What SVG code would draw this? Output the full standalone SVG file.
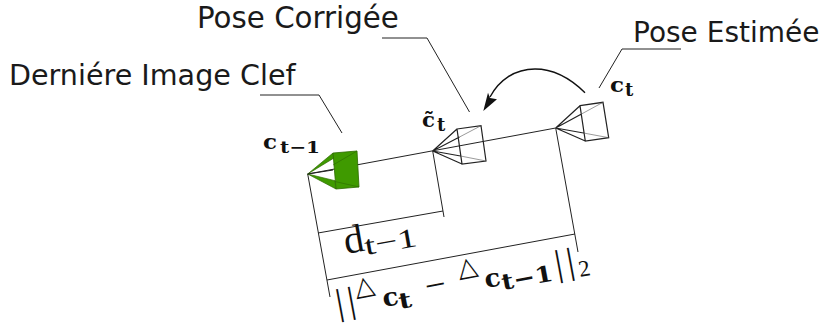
<svg xmlns="http://www.w3.org/2000/svg" width="825" height="326" viewBox="0 0 825 326">
<style>
.lab{font-family:"DejaVu Sans",sans-serif;fill:#1a1a1a}
.m{font-family:"DejaVu Serif",serif;font-weight:bold;fill:#111}
.r{font-family:"Liberation Serif",serif;fill:#111}
.l{fill:none;stroke:#222;stroke-width:1}
.t{fill:none;stroke:#222;stroke-width:1.2}
.f{fill:none;stroke:#555;stroke-width:.6}
</style>
<rect width="825" height="326" fill="#fff"/>
<g id="connectors">
<path class="l" d="M307.7 174L555.7 128"/>
<path class="l" d="M307.7 174L330 297M432.7 151L444 217M555.7 128L578 252"/>
<path class="l" d="M318 233L443 211M327 280L575 234"/>
<path class="l" d="M260 95H319L342 133M382 38H427L469.5 112M599 88L622 49H681"/>
<path d="M585 92.7C567 75 550 69 535 69C515 69 499 80 490 97" fill="none" stroke="#111" stroke-width="1.4"/>
<path d="M483.3 111L488 92.7L490 98L497 99.3Z" fill="#111"/>
</g>
<g id="cam1">
<path d="M307.7 174L333 153L334 158ZM307.7 174L335 180.7L336 189Z" fill="#3f9a00" stroke="#2c6a00" stroke-width=".7"/>
<path d="M333 153L357 151L359 187L336 189Z" fill="#3f9a00" stroke="#2c6a00" stroke-width=".8"/>
<path d="M333 165L357 151M335 181.5L359 187" stroke="#2c6a00" stroke-width=".6" fill="none"/>
<path d="M307.7 174L333 170" stroke="#222" fill="none"/>
</g>
<g id="cam2">
<path class="t" d="M457 129L481 125.7L486 161L462 164ZM432.7 151L457 129M432.7 151L462 164M432.7 151L459.5 137M432.7 151L460.5 156"/>
<path class="f" d="M459.5 137L481 125.7M460.5 156L486 161"/>
</g>
<g id="cam3">
<path class="t" d="M580 105.7L603 102.3L608.7 137.7L585.3 141ZM555.7 128L580 105.7M555.7 128L585.3 141M555.7 128L581.5 114M555.7 128L583.5 133"/>
<path class="f" d="M581.5 114L603 102.3M583.5 133L608.7 137.7"/>
</g>
<g id="labels">
<text class="lab" x="9" y="85" font-size="28.6">Derniére Image Clef</text>
<text class="lab" x="197" y="28" font-size="29.3">Pose Corrigée</text>
<text class="lab" x="633" y="41.5" font-size="28">Pose Estimée</text>
<text class="m" x="263" y="149" font-size="21" textLength="14" lengthAdjust="spacingAndGlyphs">c</text>
<text class="m" x="280" y="153" font-size="17" textLength="40" lengthAdjust="spacingAndGlyphs">t−1</text>
<text class="m" x="422" y="127" font-size="21" textLength="13" lengthAdjust="spacingAndGlyphs">c̃</text>
<text class="m" x="437" y="131" font-size="18">t</text>
<text class="m" x="610" y="92" font-size="21" textLength="14" lengthAdjust="spacingAndGlyphs">c</text>
<text class="m" x="625" y="96" font-size="18">t</text>
<text class="r" x="346" y="254" font-size="40" transform="rotate(-10 346 254)">d</text>
<text class="r" x="366" y="255" font-size="27" textLength="53" lengthAdjust="spacingAndGlyphs" transform="rotate(-10 366 255)">t−1</text>
<text class="r" x="338" y="315" font-size="37" letter-spacing="4.5" transform="rotate(-10.5 338 315)">||</text>
<text class="r" x="356" y="296" font-size="26" transform="rotate(-10.5 356 296)">△</text>
<text class="m" x="384" y="307" font-size="25" textLength="16" lengthAdjust="spacingAndGlyphs" transform="rotate(-10.5 384 307)">c</text>
<text class="m" x="400" y="309" font-size="22" textLength="13" lengthAdjust="spacingAndGlyphs" transform="rotate(-10.5 400 309)">t</text>
<text class="r" x="427" y="298" font-size="34" textLength="21" lengthAdjust="spacingAndGlyphs" transform="rotate(-10.5 427 298)">−</text>
<text class="r" x="459" y="277" font-size="26" transform="rotate(-10.5 459 277)">△</text>
<text class="m" x="486" y="288" font-size="25" textLength="16" lengthAdjust="spacingAndGlyphs" transform="rotate(-10.5 486 288)">c</text>
<text class="m" x="503" y="290" font-size="22" textLength="52" lengthAdjust="spacingAndGlyphs" transform="rotate(-10.5 503 290)">t−1</text>
<text class="r" x="557" y="276" font-size="37" letter-spacing="4.5" transform="rotate(-10.5 557 276)">||</text>
<text class="r" x="580" y="277" font-size="23" transform="rotate(-10.5 580 277)">2</text>
</g>
</svg>
